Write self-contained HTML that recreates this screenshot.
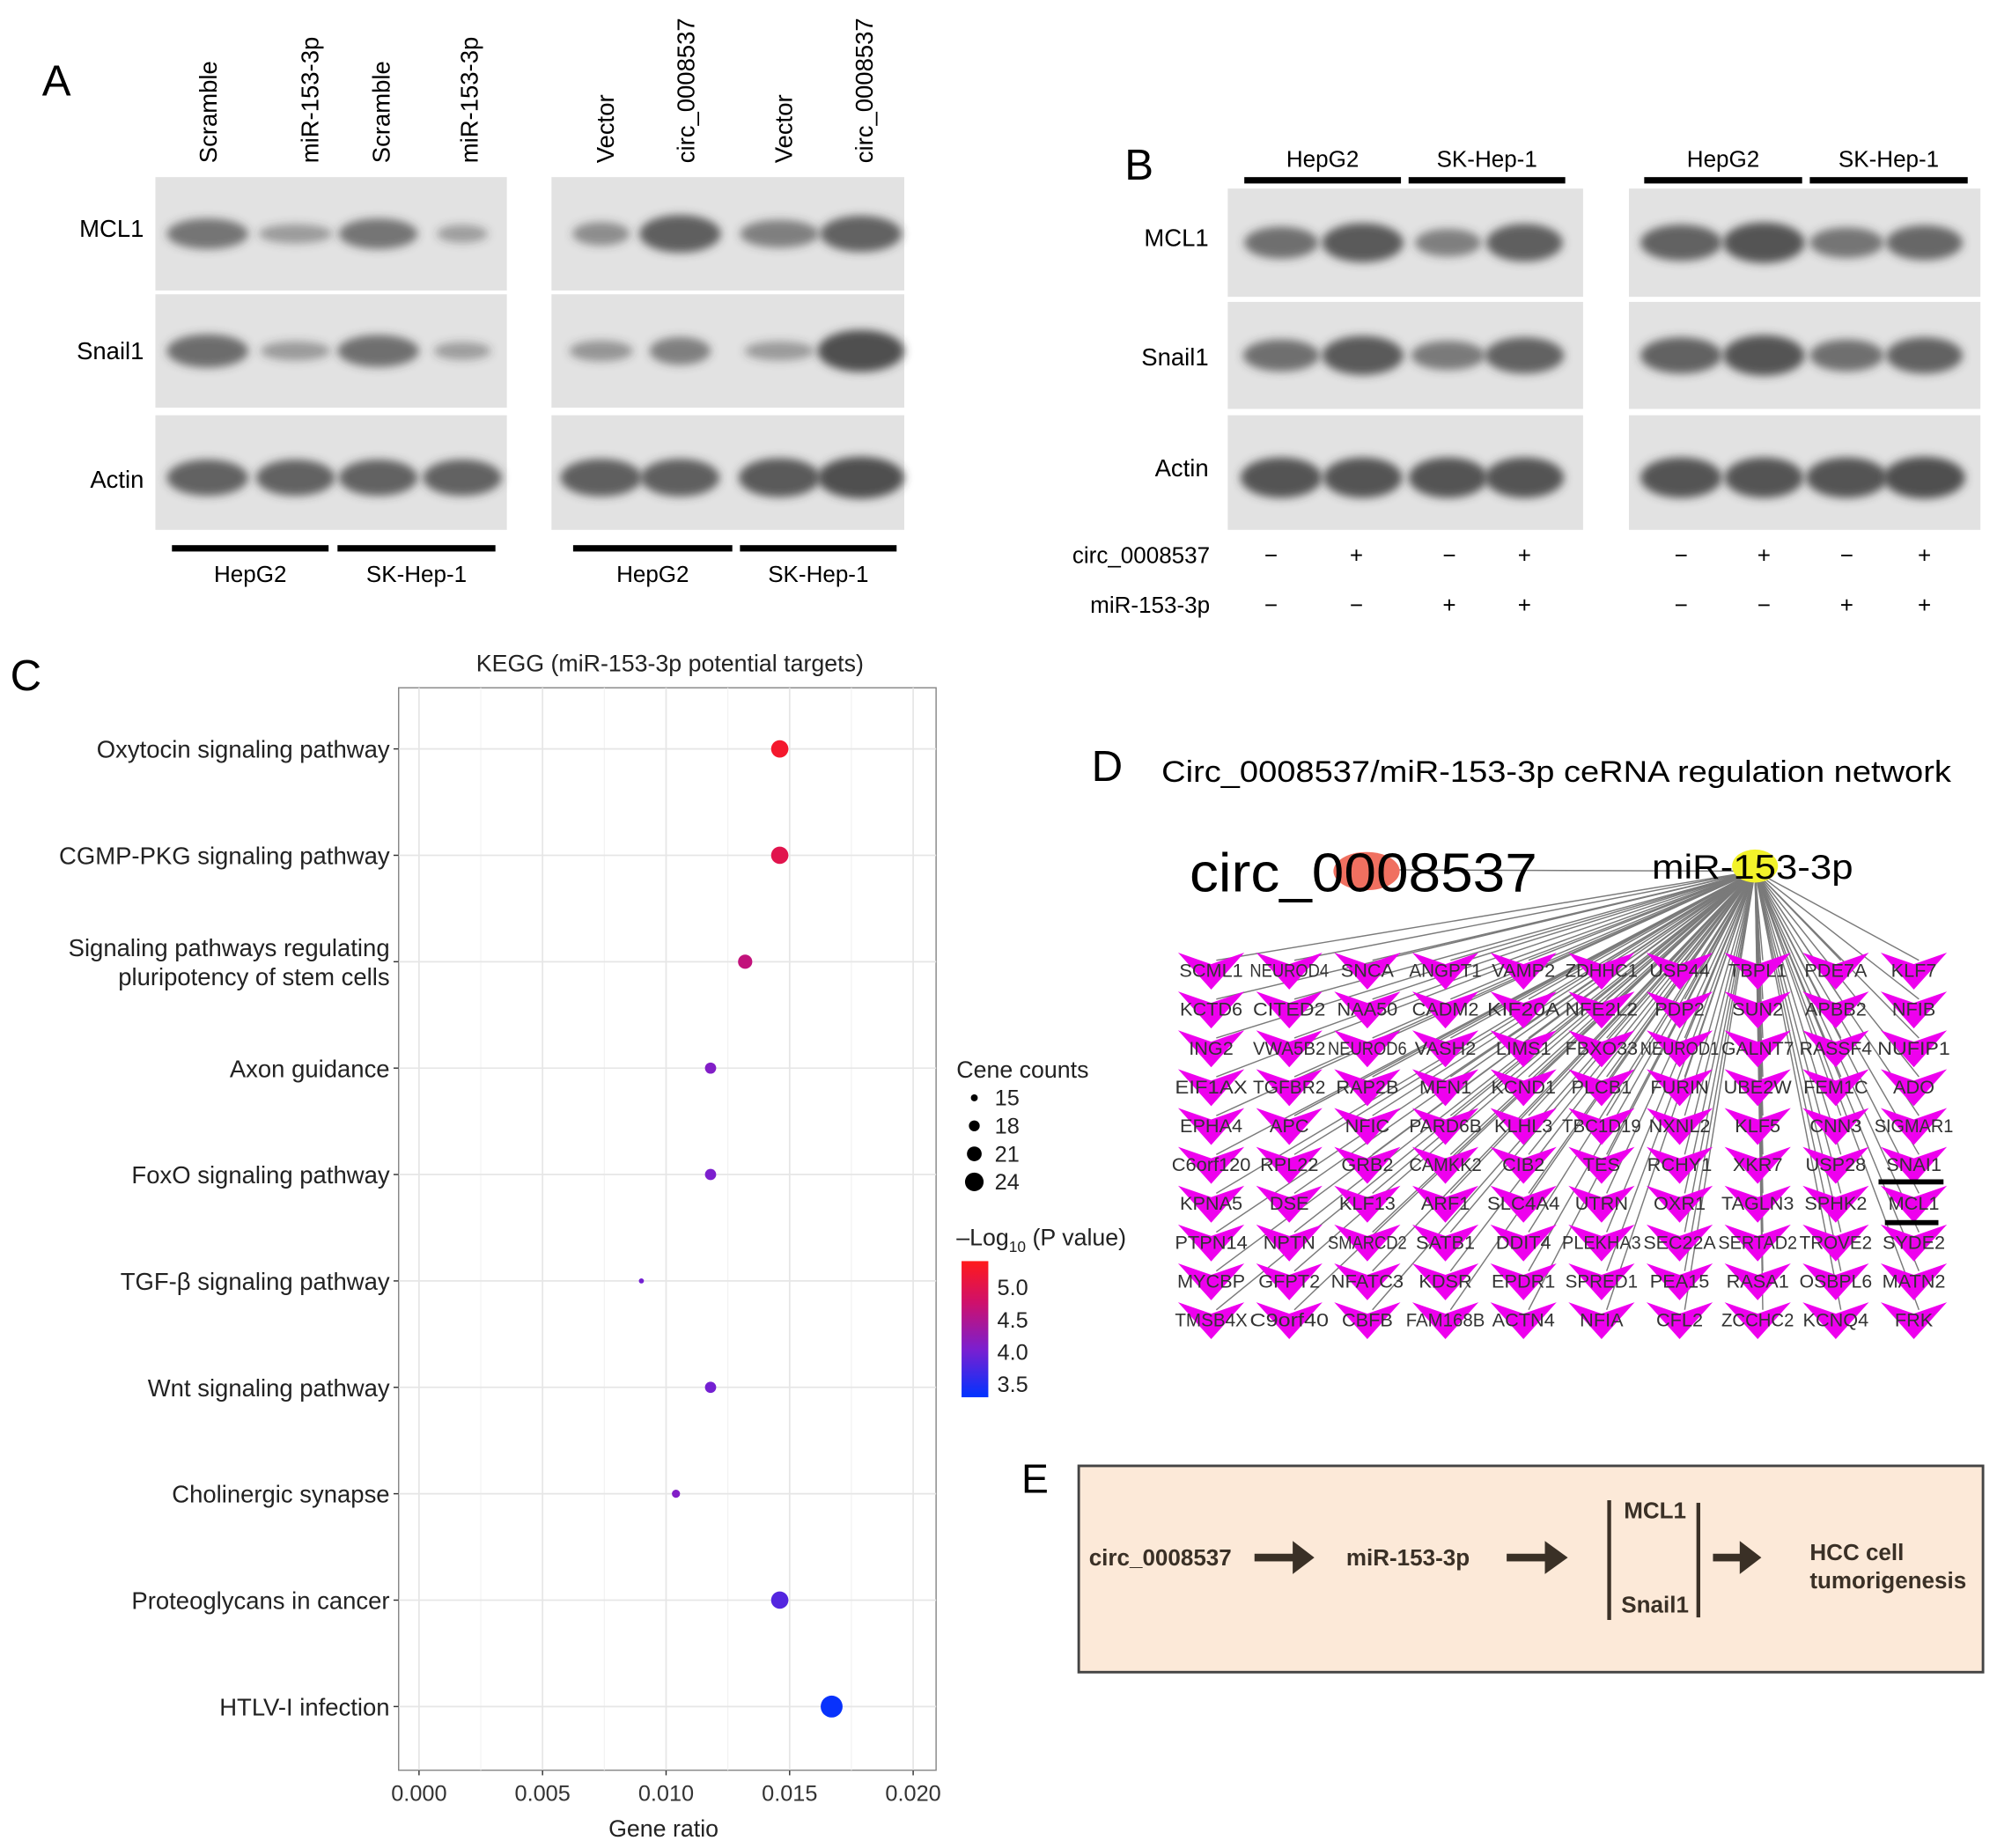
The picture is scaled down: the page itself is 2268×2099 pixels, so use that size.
<!DOCTYPE html>
<html><head><meta charset="utf-8"><style>
html,body{margin:0;padding:0;background:#fff;}
svg{display:block;font-family:"Liberation Sans",Arial,sans-serif;}
</style></head><body>
<svg id="fig" width="2268" height="2099" viewBox="0 0 1568 1451" xmlns="http://www.w3.org/2000/svg">
<defs>
<filter id="blur" x="-50%" y="-100%" width="200%" height="300%"><feGaussianBlur stdDeviation="3.5"/></filter>
<linearGradient id="cbar" x1="0" y1="1" x2="0" y2="0">
<stop offset="0" stop-color="#0033ff"/><stop offset="0.35" stop-color="#7a1fd0"/><stop offset="0.7" stop-color="#d0106a"/><stop offset="1" stop-color="#ff1a1a"/>
</linearGradient>
</defs>
<g id="panelA"></g>
<g id="panelB"></g>
<g id="panelC"></g>
<g id="panelD"></g>
<g id="panelE">
<text x="802" y="1172" font-size="32">E</text>
<rect x="847" y="1151" width="710" height="162" fill="#fce9d8" stroke="#444" stroke-width="2"/>
<g fill="#3a3026" font-weight="bold" font-size="18">
<text x="855" y="1229">circ_0008537</text>
<text x="1057" y="1229">miR-153-3p</text>
<text x="1275" y="1192">MCL1</text>
<text x="1273" y="1266">Snail1</text>
<text x="1421" y="1225">HCC cell</text>
<text x="1421" y="1247">tumorigenesis</text>
</g>
<g fill="#3a3026">
<rect x="985" y="1220" width="32" height="6"/><polygon points="1015,1210 1032,1223 1015,1236"/>
<rect x="1183" y="1220" width="32" height="6"/><polygon points="1213,1210 1231,1223 1213,1236"/>
<rect x="1345" y="1220" width="22" height="6"/><polygon points="1366,1210 1383,1223 1366,1236"/>
<rect x="1262" y="1178" width="3" height="94"/><rect x="1332" y="1180" width="3" height="90"/>
</g>
</g>
</svg>
<script>
var categories=['Oxytocin signaling pathway','CGMP-PKG signaling pathway','Signaling pathways regulating|pluripotency of stem cells','Axon guidance','FoxO signaling pathway','TGF-β signaling pathway','Wnt signaling pathway','Cholinergic synapse','Proteoglycans in cancer','HTLV-I infection'];
var geneRatio=[0.0146,0.0146,0.0132,0.0118,0.0118,0.0090,0.0118,0.0104,0.0146,0.0167];
var geneCounts=[21,21,19,17,17,13,17,15,21,24];
var logP=[5.25,5.0,4.65,4.1,4.05,4.0,4.0,4.1,3.8,3.35];
var xTicks=[0,0.005,0.010,0.015,0.020];
var xTickLabels=['0.000','0.005','0.010','0.015','0.020'];
var sizeLegend=[15,18,21,24];
var colorTicks=[5.0,4.5,4.0,3.5];

var NS="http://www.w3.org/2000/svg";
function mk(tag,attrs,parent,txt){var e=document.createElementNS(NS,tag);for(var k in attrs)e.setAttribute(k,attrs[k]);if(txt!==undefined)e.textContent=txt;parent.appendChild(e);return e;}

/* ---------- Blots ---------- */
var A=document.getElementById('panelA');
var t=mk('text',{x:33,y:75,'font-size':34},A,'A');


function blotPanel(g,x0,x1,rows,lanes,intens,widths,nameP){
  rows.forEach(function(r,ri){
    var rc=mk('rect',{x:x0,y:r[0],width:x1-x0,height:r[1]-r[0],fill:'#e2e2e2'},g);
    
    
    lanes.forEach(function(lx,li){
      var v=intens[ri][li]; if(v<=0)return;
      var by=(r[0]+r[1])/2+(ri==2?4:0);
      var e=mk('ellipse',{cx:lx,cy:by,rx:widths[ri][li]/2,ry:6+v*11,fill:'#3a3a3a','fill-opacity':0.35+v*0.55,filter:'url(#blur)'},g);
      
      
    });
  });
}
var rowsA=[[139,228],[231,320],[326,416]];
blotPanel(A,122,398,rowsA,[163,232,297,363],[[0.55,0.15,0.55,0.1],[0.65,0.15,0.6,0.1],[0.75,0.75,0.75,0.75]],[[64,58,62,40],[64,55,64,45],[64,62,62,62]],'a-left');
blotPanel(A,433,710,rowsA,[472,534,612,676],[[0.3,0.8,0.45,0.75],[0.2,0.45,0.15,0.95],[0.8,0.8,0.85,0.95]],[[45,64,62,64],[50,48,55,68],[64,62,64,68]],'a-right');
var labelsA=[['Scramble',163],['miR-153-3p',243],['Scramble',299],['miR-153-3p',368],['Vector',475],['circ_0008537',538],['Vector',615],['circ_0008537',678]];
labelsA.forEach(function(l){
  var tx=mk('text',{x:0,y:0,'font-size':19,transform:'translate('+(l[1]+7)+',128) rotate(-90)'},A,l[0]);
  
  
});
[['MCL1',180],['Snail1',276],['Actin',377]].forEach(function(l){
  var tx=mk('text',{x:113,y:l[1]+6,'font-size':19,'text-anchor':'end'},A,l[0]);
  
  
});
[[135,258,'HepG2'],[265,389,'SK-Hep-1'],[450,575,'HepG2'],[581,704,'SK-Hep-1']].forEach(function(b){
  var r=mk('rect',{x:b[0],y:428,width:b[1]-b[0],height:5,fill:'#000'},A);
  
  
  var tx=mk('text',{x:(b[0]+b[1])/2,y:457,'font-size':18,'text-anchor':'middle'},A,b[2]);
  
  
});

var B=document.getElementById('panelB');
t=mk('text',{x:883,y:141,'font-size':34},B,'B');


var rowsB=[[148,233],[237,321],[326,416]];
blotPanel(B,964,1243,rowsB,[1006,1070,1137,1197],[[0.6,0.85,0.45,0.8],[0.6,0.85,0.5,0.75],[0.9,0.9,0.9,0.9]],[[58,64,52,60],[60,64,58,62],[64,62,62,62]],'b-left');
blotPanel(B,1279,1555,rowsB,[1320,1385,1450,1511],[[0.75,0.9,0.55,0.7],[0.75,0.9,0.6,0.75],[0.9,0.9,0.9,0.95]],[[64,64,58,60],[64,64,58,60],[64,62,64,64]],'b-right');
[[977,1100,'HepG2'],[1106,1229,'SK-Hep-1'],[1291,1415,'HepG2'],[1421,1545,'SK-Hep-1']].forEach(function(b){
  var r=mk('rect',{x:b[0],y:139,width:b[1]-b[0],height:5,fill:'#000'},B);
  
  
  var tx=mk('text',{x:(b[0]+b[1])/2,y:131,'font-size':18,'text-anchor':'middle'},B,b[2]);
  
  
});
[['MCL1',187],['Snail1',281],['Actin',368]].forEach(function(l){
  var tx=mk('text',{x:949,y:l[1]+6,'font-size':19,'text-anchor':'end'},B,l[0]);
  
  
});
var circSigns=['−','+','−','+','−','+','−','+'];
var mirSigns=['−','−','+','+','−','−','+','+'];
var signX=[998,1065,1138,1197,1320,1385,1450,1511];
var tl=mk('text',{x:950,y:442,'font-size':18,'text-anchor':'end'},B,'circ_0008537');


tl=mk('text',{x:950,y:481,'font-size':18,'text-anchor':'end'},B,'miR-153-3p');


signX.forEach(function(x,i){
  var a=mk('text',{x:x,y:442,'font-size':18,'text-anchor':'middle'},B,circSigns[i]);
  
  
  var b=mk('text',{x:x,y:481,'font-size':18,'text-anchor':'middle'},B,mirSigns[i]);
  
  
});

/* ---------- Chart C ---------- */
var C=document.getElementById('panelC');
var px0=313,px1=735,py0=540,py1=1390;
function xs(v){return 329+v*(717-329)/0.02;}
function ys(i){return 588+i*(1340-588)/9;}
function rs(c){return Math.max(1.5,2+(c-13)*0.6);}
function cs(v){
  var f=Math.max(0,Math.min(1,(v-3.3)/(5.4-3.3)));
  var stops=[[0,[0,51,255]],[0.35,[122,31,208]],[0.7,[208,16,106]],[1,[255,26,26]]];
  for(var i=1;i<stops.length;i++){if(f<=stops[i][0]){var a=stops[i-1],b=stops[i];var u=(f-a[0])/(b[0]-a[0]);var c=a[1].map(function(q,k){return Math.round(q+(b[1][k]-q)*u);});return 'rgb('+c.join(',')+')';}}
  return 'rgb(255,26,26)';
}
t=mk('text',{x:8,y:542,'font-size':34},C,'C');


var pr=mk('rect',{x:px0,y:py0,width:px1-px0,height:py1-py0,fill:'#fff',stroke:'#888','stroke-width':1},C);


for(var k=0;k<xTicks.length;k++){
  var gl=mk('line',{x1:xs(xTicks[k]),x2:xs(xTicks[k]),y1:py0,y2:py1,stroke:'#e6e6e6','stroke-width':1.2},C);
  
  
  if(k<xTicks.length-1){var m=(xTicks[k]+xTicks[k+1])/2;var gm=mk('line',{x1:xs(m),x2:xs(m),y1:py0,y2:py1,stroke:'#f2f2f2','stroke-width':0.8},C);
  
  }
  var tk=mk('line',{x1:xs(xTicks[k]),x2:xs(xTicks[k]),y1:py1,y2:py1+4,stroke:'#333'},C);
  
  
  var tt=mk('text',{x:xs(xTicks[k]),y:py1+24,'font-size':17.5,'text-anchor':'middle',fill:'#333'},C,xTickLabels[k]);
  
  
}
categories.forEach(function(c,i){
  var y=ys(i);
  var gl=mk('line',{x1:px0,x2:px1,y1:y,y2:y,stroke:'#e6e6e6','stroke-width':1.2},C);
  
  
  var tk=mk('line',{x1:px0-4,x2:px0,y1:y,y2:y,stroke:'#333'},C);
  
  
  var parts=c.split('|');
  parts.forEach(function(p,j){
    var tt=mk('text',{x:px0-7,y:y+7+(j-(parts.length-1)/2)*23,'font-size':19,'text-anchor':'end',fill:'#222'},C,p);
    
    
  });
});
categories.forEach(function(c,i){
  var pt=mk('circle',{cx:xs(geneRatio[i]),cy:ys(i),r:rs(geneCounts[i]),fill:cs(logP[i])},C);
  
  
});
var tt=mk('text',{x:526,y:527,'font-size':18.5,'text-anchor':'middle',fill:'#222'},C,'KEGG (miR-153-3p potential targets)');


tt=mk('text',{x:521,y:1442,'font-size':18.5,'text-anchor':'middle',fill:'#222'},C,'Gene ratio');


tt=mk('text',{x:751,y:846,'font-size':18.5,fill:'#222'},C,'Cene counts');


sizeLegend.forEach(function(s,i){
  var y=862+i*22;
  var c=mk('circle',{cx:765,cy:y,r:rs(s)*0.85,fill:'#000'},C);
  
  
  var l=mk('text',{x:781,y:y+6,'font-size':17.5,fill:'#222'},C,String(s));
  
  
});
var lt=mk('text',{x:751,y:978,'font-size':18.5,fill:'#222'},C);


mk('tspan',{},lt,'–Log');
mk('tspan',{'font-size':12,dy:5},lt,'10');
mk('tspan',{dy:-5},lt,' (P value)');
function cby(v){return 1087-(v-3.5)*(1087-1011)/1.5;}
var cb=mk('rect',{x:755,y:cby(5.41),width:21,height:cby(3.3)-cby(5.41),fill:'url(#cbar)'},C);


colorTicks.forEach(function(v){
  var l=mk('text',{x:783,y:cby(v)+6,'font-size':17.5,fill:'#222'},C,v.toFixed(1));
  
  
});

/* ---------- Network D ---------- */
var D=document.getElementById('panelD');
t=mk('text',{x:857,y:613,'font-size':34},D,'D');


t=mk('text',{x:912,y:614,'font-size':23.5,textLength:620,lengthAdjust:'spacingAndGlyphs'},D,'Circ_0008537/miR-153-3p ceRNA regulation network');


var genes=[
['SCML1','NEUROD4','SNCA','ANGPT1','VAMP2','ZDHHC1','USP44','TBPL1','PDE7A','KLF7'],
['KCTD6','CITED2','NAA50','CADM2','KIF20A','NFE2L2','PDP2','SUN2','APBB2','NFIB'],
['ING2','VWA5B2','NEUROD6','VASH2','LIMS1','FBXO33','NEUROD1','GALNT7','RASSF4','NUFIP1'],
['EIF1AX','TGFBR2','RAP2B','MFN1','KCND1','PLCB1','FURIN','UBE2W','FEM1C','ADO'],
['EPHA4','APC','NFIC','PARD6B','KLHL3','TBC1D19','NXNL2','KLF5','CNN3','SIGMAR1'],
['C6orf120','RPL22','GRB2','CAMKK2','CIB2','TES','RCHY1','XKR7','USP28','SNAI1'],
['KPNA5','DSE','KLF13','ARF1','SLC4A4','UTRN','OXR1','TAGLN3','SPHK2','MCL1'],
['PTPN14','NPTN','SMARCD2','SATB1','DDIT4','PLEKHA3','SEC22A','SERTAD2','TROVE2','SYDE2'],
['MYCBP','GFPT2','NFATC3','KDSR','EPDR1','SPRED1','PEA15','RASA1','OSBPL6','MATN2'],
['TMSB4X','C9orf40','CBFB','FAM168B','ACTN4','NFIA','CFL2','ZCCHC2','KCNQ4','FRK']];
function gx(c){return 951+c*61.3;}
function gy(r){return 762+r*30.5;}
var hub=[1378,684];
var eg=mk('g',{stroke:'#7a7a7a','stroke-width':1},D);


var ce=mk('line',{x1:1090,y1:683,x2:hub[0],y2:hub[1]},eg);


genes.forEach(function(row,r){row.forEach(function(g,c){
  var e=mk('line',{x1:hub[0],y1:hub[1],x2:gx(c)+4,y2:gy(r)-8},eg);
  
  
});});
var n1=mk('ellipse',{cx:1073,cy:684,rx:26,ry:15,fill:'#f07060'},D);


var n2=mk('ellipse',{cx:1378,cy:680,rx:18,ry:13,fill:'#f2f22a'},D);


t=mk('text',{x:934,y:700,'font-size':43,textLength:273,lengthAdjust:'spacingAndGlyphs'},D,'circ_0008537');


t=mk('text',{x:1297,y:690,'font-size':27,textLength:158,lengthAdjust:'spacingAndGlyphs'},D,'miR-153-3p');


genes.forEach(function(row,r){row.forEach(function(g,c){
  var x=gx(c),y=gy(r);
  var p=mk('polygon',{points:(x-26)+','+(y-14)+' '+x+','+(y-5)+' '+(x+26)+','+(y-14)+' '+x+','+(y+15),fill:'#ee00ee'},D);
  
  
  var at={x:x,y:y+5,'font-size':15,'text-anchor':'middle',fill:'#333'};
  if(g.length>5){at.textLength=Math.min(62,g.length*9.5);at.lengthAdjust='spacingAndGlyphs';}
  var tx=mk('text',at,D,g);
  
  
});});
var u1=mk('rect',{x:1475,y:926,width:51,height:4,fill:'#000'},D);


var u2=mk('rect',{x:1480,y:958,width:42,height:4,fill:'#000'},D);


</script>
</body></html>
